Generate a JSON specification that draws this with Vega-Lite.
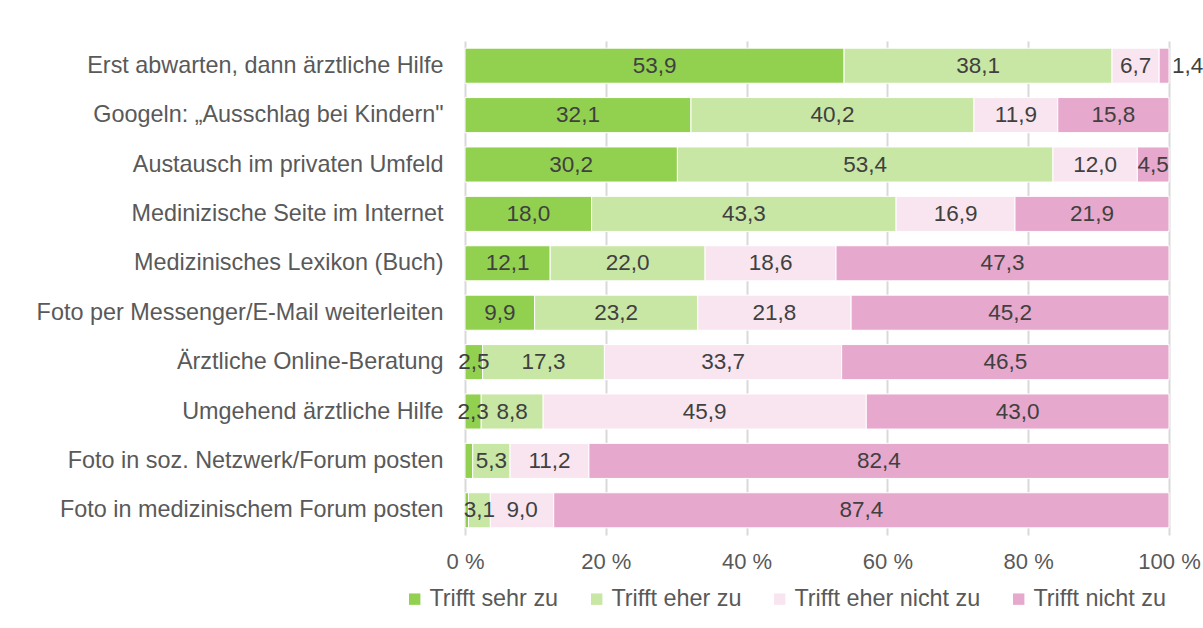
{
  "$schema": "https://vega.github.io/schema/vega-lite/v6.json",
  "autosize": {"type": "none"},
  "width": 704,
  "height": 494,
  "padding": {"left": 465, "top": 41, "right": 34, "bottom": 93},
  "background": "white",
  "config": {
    "font": "Liberation Sans",
    "view": {"stroke": null},
    "axis": {"labelFont": "Liberation Sans", "labelColor": "#595959"}
  },
  "data": {
    "values": [
      {"item": "Erst abwarten, dann ärztliche Hilfe", "cat": "Trifft sehr zu", "k": 1, "v": 53.9},
      {"item": "Erst abwarten, dann ärztliche Hilfe", "cat": "Trifft eher zu", "k": 2, "v": 38.1},
      {"item": "Erst abwarten, dann ärztliche Hilfe", "cat": "Trifft eher nicht zu", "k": 3, "v": 6.7},
      {"item": "Erst abwarten, dann ärztliche Hilfe", "cat": "Trifft nicht zu", "k": 4, "v": 1.4},
      {"item": "Googeln: „Ausschlag bei Kindern\"", "cat": "Trifft sehr zu", "k": 1, "v": 32.1},
      {"item": "Googeln: „Ausschlag bei Kindern\"", "cat": "Trifft eher zu", "k": 2, "v": 40.2},
      {"item": "Googeln: „Ausschlag bei Kindern\"", "cat": "Trifft eher nicht zu", "k": 3, "v": 11.9},
      {"item": "Googeln: „Ausschlag bei Kindern\"", "cat": "Trifft nicht zu", "k": 4, "v": 15.8},
      {"item": "Austausch im privaten Umfeld", "cat": "Trifft sehr zu", "k": 1, "v": 30.2},
      {"item": "Austausch im privaten Umfeld", "cat": "Trifft eher zu", "k": 2, "v": 53.4},
      {"item": "Austausch im privaten Umfeld", "cat": "Trifft eher nicht zu", "k": 3, "v": 12.0},
      {"item": "Austausch im privaten Umfeld", "cat": "Trifft nicht zu", "k": 4, "v": 4.5},
      {"item": "Medinizische Seite im Internet", "cat": "Trifft sehr zu", "k": 1, "v": 18.0},
      {"item": "Medinizische Seite im Internet", "cat": "Trifft eher zu", "k": 2, "v": 43.3},
      {"item": "Medinizische Seite im Internet", "cat": "Trifft eher nicht zu", "k": 3, "v": 16.9},
      {"item": "Medinizische Seite im Internet", "cat": "Trifft nicht zu", "k": 4, "v": 21.9},
      {"item": "Medizinisches Lexikon (Buch)", "cat": "Trifft sehr zu", "k": 1, "v": 12.1},
      {"item": "Medizinisches Lexikon (Buch)", "cat": "Trifft eher zu", "k": 2, "v": 22.0},
      {"item": "Medizinisches Lexikon (Buch)", "cat": "Trifft eher nicht zu", "k": 3, "v": 18.6},
      {"item": "Medizinisches Lexikon (Buch)", "cat": "Trifft nicht zu", "k": 4, "v": 47.3},
      {"item": "Foto per Messenger/E-Mail weiterleiten", "cat": "Trifft sehr zu", "k": 1, "v": 9.9},
      {"item": "Foto per Messenger/E-Mail weiterleiten", "cat": "Trifft eher zu", "k": 2, "v": 23.2},
      {"item": "Foto per Messenger/E-Mail weiterleiten", "cat": "Trifft eher nicht zu", "k": 3, "v": 21.8},
      {"item": "Foto per Messenger/E-Mail weiterleiten", "cat": "Trifft nicht zu", "k": 4, "v": 45.2},
      {"item": "Ärztliche Online-Beratung", "cat": "Trifft sehr zu", "k": 1, "v": 2.5},
      {"item": "Ärztliche Online-Beratung", "cat": "Trifft eher zu", "k": 2, "v": 17.3},
      {"item": "Ärztliche Online-Beratung", "cat": "Trifft eher nicht zu", "k": 3, "v": 33.7},
      {"item": "Ärztliche Online-Beratung", "cat": "Trifft nicht zu", "k": 4, "v": 46.5},
      {"item": "Umgehend ärztliche Hilfe", "cat": "Trifft sehr zu", "k": 1, "v": 2.3},
      {"item": "Umgehend ärztliche Hilfe", "cat": "Trifft eher zu", "k": 2, "v": 8.8},
      {"item": "Umgehend ärztliche Hilfe", "cat": "Trifft eher nicht zu", "k": 3, "v": 45.9},
      {"item": "Umgehend ärztliche Hilfe", "cat": "Trifft nicht zu", "k": 4, "v": 43.0},
      {"item": "Foto in soz. Netzwerk/Forum posten", "cat": "Trifft sehr zu", "k": 1, "v": 1.1},
      {"item": "Foto in soz. Netzwerk/Forum posten", "cat": "Trifft eher zu", "k": 2, "v": 5.3},
      {"item": "Foto in soz. Netzwerk/Forum posten", "cat": "Trifft eher nicht zu", "k": 3, "v": 11.2},
      {"item": "Foto in soz. Netzwerk/Forum posten", "cat": "Trifft nicht zu", "k": 4, "v": 82.4},
      {"item": "Foto in medizinischem Forum posten", "cat": "Trifft sehr zu", "k": 1, "v": 0.5},
      {"item": "Foto in medizinischem Forum posten", "cat": "Trifft eher zu", "k": 2, "v": 3.1},
      {"item": "Foto in medizinischem Forum posten", "cat": "Trifft eher nicht zu", "k": 3, "v": 9.0},
      {"item": "Foto in medizinischem Forum posten", "cat": "Trifft nicht zu", "k": 4, "v": 87.4}
    ]
  },
  "transform": [
    {"stack": "v", "groupby": ["item"], "sort": [{"field": "k", "order": "ascending"}], "offset": "normalize", "as": ["x0", "x1"]},
    {"calculate": "(datum.x0 + datum.x1) / 2", "as": "mid"},
    {"calculate": "replace(format(datum.v, '.1f'), '.', ',')", "as": "lbl"}
  ],
  "encoding": {
    "y": {
      "field": "item", "type": "nominal", "sort": null, "title": null,
      "scale": {"paddingInner": 0.29, "paddingOuter": 0.145},
      "axis": {"domain": false, "ticks": false, "labelFontSize": 23.4, "labelPadding": 22, "labelColor": "#595959", "labelLimit": 500}
    }
  },
  "layer": [
    {
      "mark": {"type": "bar", "stroke": "white", "strokeWidth": 1},
      "encoding": {
        "x": {
          "field": "x0", "type": "quantitative", "title": null,
          "scale": {"domain": [0, 1], "nice": false},
          "axis": {
            "values": [0, 0.2, 0.4, 0.6, 0.8, 1],
            "labelExpr": "format(datum.value * 100, '.0f') + ' %'",
            "domain": false, "ticks": false,
            "grid": true, "gridColor": "#d9d9d9", "gridWidth": 2,
            "labelFontSize": 22, "labelPadding": 16, "labelColor": "#595959",
            "labelFlush": false
          }
        },
        "x2": {"field": "x1"},
        "color": {
          "field": "cat", "type": "nominal", "title": null,
          "sort": ["Trifft sehr zu", "Trifft eher zu", "Trifft eher nicht zu", "Trifft nicht zu"],
          "scale": {
            "domain": ["Trifft sehr zu", "Trifft eher zu", "Trifft eher nicht zu", "Trifft nicht zu"],
            "range": ["#92d050", "#c8e6a4", "#f8e5f0", "#e6a8cc"]
          },
          "legend": {
            "orient": "none", "legendX": -62, "legendY": 546,
            "direction": "horizontal", "columns": 4,
            "symbolType": "square", "symbolSize": 130,
            "symbolStrokeWidth": 0,
            "labelFontSize": 23.4, "labelColor": "#595959", "labelOffset": 3,
            "columnPadding": 26, "labelLimit": 400
          }
        }
      }
    },
    {
      "transform": [{"filter": "datum.v >= 1.2 && !(datum.k == 4 && datum.v < 2)"}],
      "mark": {"type": "text", "fontSize": 22.5, "color": "#404040", "baseline": "middle"},
      "encoding": {
        "x": {"field": "mid", "type": "quantitative"},
        "text": {"field": "lbl"}
      }
    },
    {
      "transform": [{"filter": "datum.k == 4 && datum.v < 2"}],
      "mark": {"type": "text", "fontSize": 22.5, "color": "#404040", "baseline": "middle", "align": "left", "dx": 3},
      "encoding": {
        "x": {"field": "x1", "type": "quantitative"},
        "text": {"field": "lbl"}
      }
    }
  ]
}
